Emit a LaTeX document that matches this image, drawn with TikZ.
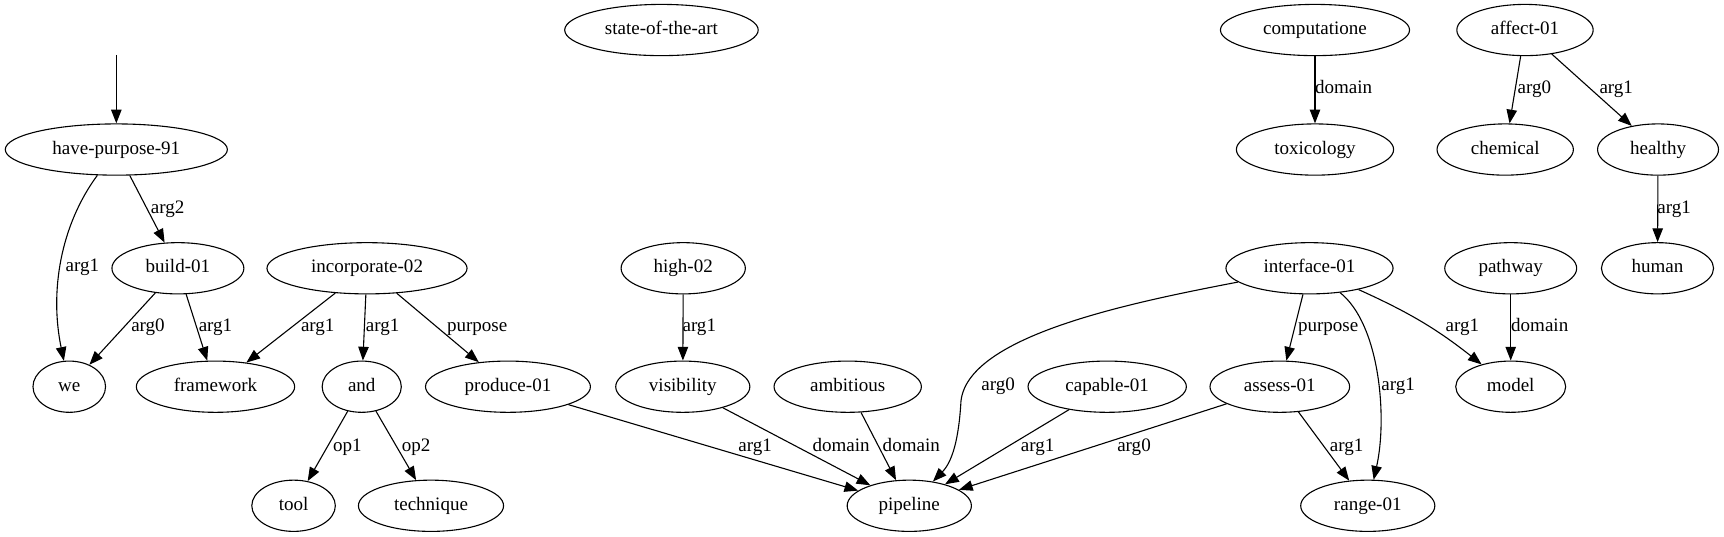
\documentclass[tikz,border=0pt]{standalone}
\usepackage{fontspec}
\setmainfont{Liberation Serif}
\usetikzlibrary{arrows.meta,shapes.geometric}
\begin{document}
\begin{tikzpicture}[x=1pt,y=-1pt,
  txt/.style={font=\fontsize{17.3}{20}\selectfont, text height=12pt, text depth=3.5pt},
  nd/.style={draw, ellipse, inner sep=0pt, minimum height=46.6pt, line width=1pt, txt},
  e/.style={draw, line width=1pt, -{Triangle[length=12.5pt,width=9.5pt]}},
  lbl/.style={inner sep=0pt, txt}]
\useasboundingbox (0,0) rectangle (1568,488);
% row 0
\node[nd, minimum width=176pt] (stateart) at (601.6,27.3) {state-of-the-art};
\node[nd, minimum width=172pt] (computatione) at (1196,27.3) {computatione};
\node[nd, minimum width=124pt] (affect) at (1387,27.3) {affect-01};
% row 1
\node[nd, minimum width=202pt] (hp) at (105.8,136) {have-purpose-91};
\node[nd, minimum width=143pt] (toxicology) at (1196,136) {toxicology};
\node[nd, minimum width=124pt] (chemical) at (1369,136) {chemical};
\node[nd, minimum width=110pt] (healthy) at (1508,136) {healthy};
% row 2
\node[nd, minimum width=120pt] (build) at (161.8,244) {build-01};
\node[nd, minimum width=182pt] (incorporate) at (333.8,244) {incorporate-02};
\node[nd, minimum width=113pt] (high) at (621.4,244) {high-02};
\node[nd, minimum width=152pt] (interface) at (1191,244) {interface-01};
\node[nd, minimum width=120pt] (pathway) at (1374,244) {pathway};
\node[nd, minimum width=102pt] (human) at (1507.5,244) {human};
% row 3
\node[nd, minimum width=66pt] (we) at (63,351.7) {we};
\node[nd, minimum width=144pt] (framework) at (196,351.7) {framework};
\node[nd, minimum width=72pt] (and) at (329,351.7) {and};
\node[nd, minimum width=150pt] (produce) at (462,351.7) {produce-01};
\node[nd, minimum width=122pt] (visibility) at (621,351.7) {visibility};
\node[nd, minimum width=134pt] (ambitious) at (771,351.7) {ambitious};
\node[nd, minimum width=144pt] (capable) at (1007,351.7) {capable-01};
\node[nd, minimum width=127pt] (assess) at (1164,351.7) {assess-01};
\node[nd, minimum width=100pt] (model) at (1374,351.7) {model};
% row 4
\node[nd, minimum width=76pt] (tool) at (267,460) {tool};
\node[nd, minimum width=132pt] (technique) at (392,460) {technique};
\node[nd, minimum width=113pt] (pipeline) at (827,460) {pipeline};
\node[nd, minimum width=122pt] (range) at (1244,460) {range-01};
\coordinate (top) at (105.8,50);
% edges
\draw[e] (top) -- (hp);
\draw[e] (hp) .. controls (55,205) and (45,265) .. (we) node[lbl] (l01) at (75,243) {arg1};
\draw[e] (hp) -- (build) node[lbl] (l02) at (152.5,189.5) {arg2};
\draw[e] (build) -- (we) node[lbl] (l03) at (134.6,297.7) {arg0};
\draw[e] (build) -- (framework) node[lbl] (l04) at (196,297.7) {arg1};
\draw[e] (incorporate) -- (framework) node[lbl] (l05) at (289,297.7) {arg1};
\draw[e] (incorporate) -- (and) node[lbl] (l06) at (348,297.7) {arg1};
\draw[e] (incorporate) -- (produce) node[lbl] (l07) at (434,297.7) {purpose};
\draw[e] (and) -- (tool) node[lbl] (l08) at (316,406) {op1};
\draw[e] (and) -- (technique) node[lbl] (l09) at (378.5,406) {op2};
\draw[e] (produce) -- (pipeline) node[lbl] (l10) at (686.8,406) {arg1};
\draw[e] (high) -- (visibility) node[lbl] (l11) at (636,297.7) {arg1};
\draw[e] (visibility) -- (pipeline) node[lbl] (l12) at (765,406) {domain};
\draw[e] (ambitious) -- (pipeline) node[lbl] (l13) at (828.8,406) {domain};
\draw[e] (interface) .. controls (1030,275) and (880,305) .. (874,365) .. controls (872,400) and (866,420) .. (pipeline) node[lbl] (l14) at (907.8,351) {arg0};
\draw[e] (capable) -- (pipeline) node[lbl] (l15) at (943.7,406) {arg1};
\draw[e] (assess) -- (pipeline) node[lbl] (l16) at (1031.4,406) {arg0};
\draw[e] (interface) -- (assess) node[lbl] (l17) at (1208,297.7) {purpose};
\draw[e] (interface) .. controls (1255,295) and (1262,380) .. (range) node[lbl] (l18) at (1271.6,351) {arg1};
\draw[e] (interface) to[bend left=7] (model) node[lbl] (l19) at (1330,297.7) {arg1};
\draw[e] (assess) -- (range) node[lbl] (l20) at (1224.7,406) {arg1};
\draw[e] (pathway) -- (model) node[lbl] (l21) at (1400.4,297.7) {domain};
\draw[e] (computatione) -- (toxicology) node[lbl] (l22) at (1222,81) {domain};
\draw[e] (affect) -- (chemical) node[lbl] (l23) at (1395.5,81) {arg0};
\draw[e] (affect) -- (healthy) node[lbl] (l24) at (1470,81) {arg1};
\draw[e] (healthy) -- (human) node[lbl] (l25) at (1522.6,189.5) {arg1};
\end{tikzpicture}
\end{document}
